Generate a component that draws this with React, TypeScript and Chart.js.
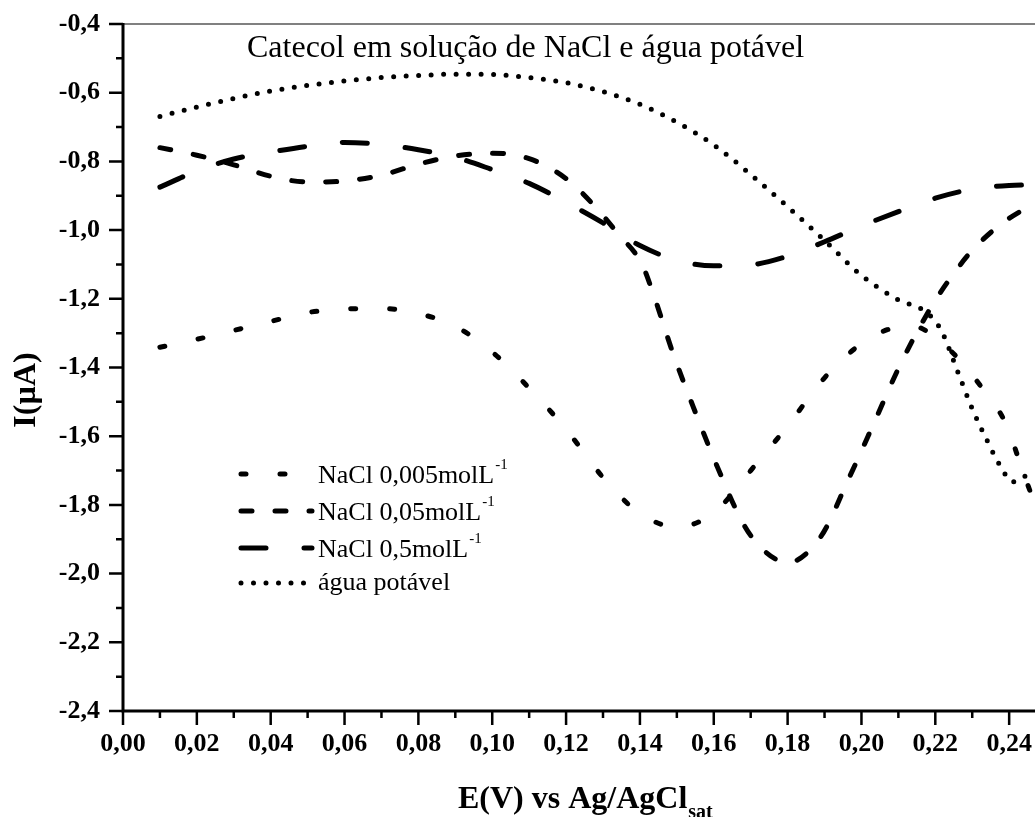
import React, { useEffect, useRef } from 'react';
import { Chart, registerables } from 'chart.js';

Chart.register(...registerables);

// ---- Data ----
const nacl005X = [0.01, 0.02, 0.03, 0.04, 0.05, 0.06, 0.07, 0.08, 0.09, 0.10, 0.11, 0.12, 0.13, 0.14, 0.15, 0.16, 0.17, 0.18, 0.19, 0.20, 0.207, 0.213, 0.224, 0.2325, 0.2393, 0.243, 0.247];
const nacl005Y = [-1.341, -1.318, -1.292, -1.266, -1.240, -1.230, -1.228, -1.243, -1.280, -1.355, -1.460, -1.580, -1.720, -1.825, -1.864, -1.823, -1.700, -1.570, -1.430, -1.330, -1.290, -1.277, -1.350, -1.457, -1.568, -1.680, -1.800];

const nacl05X = [0.01, 0.02, 0.03, 0.04, 0.05, 0.06, 0.07, 0.08, 0.09, 0.10, 0.11, 0.12, 0.128, 0.134, 0.1405, 0.1436, 0.149, 0.155, 0.161, 0.168, 0.173, 0.18, 0.189, 0.1964, 0.2035, 0.2104, 0.2186, 0.224, 0.230, 0.238, 0.247];
const nacl05Y = [-0.760, -0.782, -0.810, -0.843, -0.860, -0.857, -0.840, -0.808, -0.784, -0.776, -0.792, -0.850, -0.933, -1.010, -1.098, -1.185, -1.360, -1.530, -1.690, -1.855, -1.927, -1.968, -1.892, -1.727, -1.559, -1.394, -1.229, -1.141, -1.059, -0.981, -0.920];

const nacl5X = [0.01, 0.02, 0.03, 0.04, 0.05, 0.06, 0.07, 0.08, 0.09, 0.10, 0.11, 0.12, 0.13, 0.14, 0.15, 0.16, 0.17, 0.18, 0.19, 0.20, 0.21, 0.22, 0.23, 0.24, 0.247];
const nacl5Y = [-0.875, -0.828, -0.793, -0.773, -0.756, -0.745, -0.751, -0.766, -0.788, -0.824, -0.864, -0.919, -0.979, -1.045, -1.088, -1.104, -1.101, -1.076, -1.034, -0.988, -0.946, -0.907, -0.881, -0.870, -0.868];

const aguaX = [0.01, 0.02, 0.03, 0.04, 0.05, 0.06, 0.07, 0.08, 0.09, 0.10, 0.11, 0.12, 0.13, 0.14, 0.15, 0.16, 0.17, 0.18, 0.19, 0.20, 0.21, 0.2175, 0.2215, 0.226, 0.23, 0.234, 0.2375, 0.241, 0.2447];
const aguaY = [-0.669, -0.642, -0.617, -0.595, -0.579, -0.566, -0.556, -0.550, -0.546, -0.547, -0.556, -0.571, -0.597, -0.634, -0.686, -0.752, -0.838, -0.932, -1.030, -1.132, -1.203, -1.239, -1.290, -1.410, -1.520, -1.612, -1.685, -1.733, -1.714];

const xTicks = [0, 0.02, 0.04, 0.06, 0.08, 0.10, 0.12, 0.14, 0.16, 0.18, 0.20, 0.22, 0.24];
const yTicks = [-2.4, -2.2, -2.0, -1.8, -1.6, -1.4, -1.2, -1.0, -0.8, -0.6, -0.4];

const legendLabels = ['NaCl 0,005molL', 'NaCl 0,05molL', 'NaCl 0,5molL', 'água potável'];
const legendSup = ['-1', '-1', '-1', ''];

const chartTitle = 'Catecol em solução de NaCl e água potável';
const xTitle = 'E(V) vs Ag/AgCl';
const xTitleSub = 'sat';
const yTitle = 'I(µA)';

const SERIF = '"Liberation Serif", "Times New Roman", serif';
const DASHES = [[5, 34], [11, 23], [25, 38], [0, 12.5]];

const toPoints = (xs: number[], ys: number[]) => xs.map((x, i) => ({ x, y: ys[i] }));

const decorPlugin = {
  id: 'decor',
  afterDraw(chart: any) {
    const { ctx, chartArea: ca, scales } = chart;
    const xs = scales.x;
    const ys = scales.y;
    ctx.save();
    // top frame (gray)
    ctx.strokeStyle = '#808080';
    ctx.lineWidth = 2;
    ctx.setLineDash([]);
    ctx.beginPath();
    ctx.moveTo(ca.left, ca.top);
    ctx.lineTo(ca.right, ca.top);
    ctx.stroke();
    // axes
    ctx.strokeStyle = '#000';
    ctx.lineWidth = 3;
    ctx.beginPath();
    ctx.moveTo(ca.left, ca.top - 1);
    ctx.lineTo(ca.left, ca.bottom);
    ctx.lineTo(ca.right, ca.bottom);
    ctx.stroke();
    // ticks
    ctx.lineWidth = 2.5;
    ctx.beginPath();
    for (let i = 0; i < xTicks.length; i++) {
      const px = xs.getPixelForValue(xTicks[i]);
      ctx.moveTo(px, ca.bottom);
      ctx.lineTo(px, ca.bottom + 14);
      if (i < xTicks.length - 1) {
        const mx = xs.getPixelForValue((xTicks[i] + xTicks[i + 1]) / 2);
        ctx.moveTo(mx, ca.bottom);
        ctx.lineTo(mx, ca.bottom + 7);
      }
    }
    for (let i = 0; i < yTicks.length; i++) {
      const py = ys.getPixelForValue(yTicks[i]);
      ctx.moveTo(ca.left, py);
      ctx.lineTo(ca.left - 14, py);
      if (i < yTicks.length - 1) {
        const my = ys.getPixelForValue((yTicks[i] + yTicks[i + 1]) / 2);
        ctx.moveTo(ca.left, my);
        ctx.lineTo(ca.left - 7, my);
      }
    }
    ctx.stroke();

    // title inside plot
    ctx.fillStyle = '#000';
    ctx.font = `32px ${SERIF}`;
    ctx.textAlign = 'left';
    ctx.textBaseline = 'alphabetic';
    ctx.fillText(chartTitle, 247, 57);

    // x title with subscript
    ctx.font = `bold 32px ${SERIF}`;
    ctx.fillText(xTitle, 458, 808);
    const w = ctx.measureText(xTitle).width;
    ctx.font = `bold 20px ${SERIF}`;
    ctx.fillText(xTitleSub, 458 + w + 1, 818);

    // y title rotated
    ctx.save();
    ctx.translate(27, 390);
    ctx.rotate(-Math.PI / 2);
    ctx.font = `bold 32px ${SERIF}`;
    ctx.textAlign = 'center';
    ctx.textBaseline = 'middle';
    ctx.fillText(yTitle, 0, 0);
    ctx.restore();

    // legend
    const baselines = [483, 520, 557, 590];
    for (let i = 0; i < legendLabels.length; i++) {
      const by = baselines[i];
      const ly = i < 3 ? by - 9 : by - 7;
      ctx.strokeStyle = '#000';
      ctx.lineWidth = 5;
      ctx.lineCap = 'round';
      ctx.setLineDash(DASHES[i]);
      ctx.lineDashOffset = 0;
      ctx.beginPath();
      ctx.moveTo(241, ly);
      ctx.lineTo(312, ly);
      ctx.stroke();
      ctx.setLineDash([]);
      ctx.font = `26px ${SERIF}`;
      ctx.textAlign = 'left';
      ctx.textBaseline = 'alphabetic';
      ctx.fillText(legendLabels[i], 318, by);
      if (legendSup[i]) {
        const tw = ctx.measureText(legendLabels[i]).width;
        ctx.font = `15px ${SERIF}`;
        ctx.fillText(legendSup[i], 318 + tw + 1, by - 14);
      }
    }
    ctx.restore();
  },
};

export default function App() {
  const ref = useRef<HTMLCanvasElement | null>(null);
  useEffect(() => {
    if (!ref.current) return;
    const mk = (label: string, xs: number[], ys: number[], dash: number[]) => ({
      label,
      data: toPoints(xs, ys),
      borderColor: '#000',
      backgroundColor: '#000',
      borderWidth: 5,
      borderDash: dash,
      borderCapStyle: 'round',
      borderJoinStyle: 'round',
      pointRadius: 0,
      cubicInterpolationMode: 'monotone',
      fill: false,
    });
    const chart = new Chart(ref.current, {
      type: 'line',
      data: {
        datasets: [
          mk(legendLabels[0], nacl005X, nacl005Y, DASHES[0]),
          mk(legendLabels[1], nacl05X, nacl05Y, DASHES[1]),
          mk(legendLabels[2], nacl5X, nacl5Y, DASHES[2]),
          mk(legendLabels[3], aguaX, aguaY, DASHES[3]),
        ] as any,
      },
      options: {
        animation: false,
        responsive: true,
        maintainAspectRatio: false,
        layout: { padding: { top: 24, left: 0, right: 0, bottom: 0 } },
        plugins: { legend: { display: false }, title: { display: false }, tooltip: { enabled: false } },
        scales: {
          x: {
            type: 'linear',
            min: 0,
            max: 0.247,
            afterBuildTicks: (s: any) => { s.ticks = xTicks.map((v) => ({ value: v })); },
            afterFit: (s: any) => { s.height = 106; s.paddingLeft = 0; s.paddingRight = 0; },
            grid: { display: true, drawOnChartArea: false, drawTicks: false, color: 'rgba(0,0,0,0)' },
            border: { display: false },
            ticks: {
              color: '#000',
              padding: 18,
              maxRotation: 0,
              autoSkip: false,
              font: { family: SERIF, size: 26, weight: 'bold' },
              callback: (v: any) => Number(v).toFixed(2).replace('.', ','),
            },
          },
          y: {
            type: 'linear',
            min: -2.4,
            max: -0.4,
            afterBuildTicks: (s: any) => { s.ticks = yTicks.map((v) => ({ value: v })); },
            afterFit: (s: any) => { s.width = 123; s.paddingTop = 0; s.paddingBottom = 0; },
            grid: { display: true, drawOnChartArea: false, drawTicks: false, color: 'rgba(0,0,0,0)' },
            border: { display: false },
            ticks: {
              color: '#000',
              padding: 23,
              autoSkip: false,
              font: { family: SERIF, size: 26, weight: 'bold' },
              callback: (v: any) => Number(v).toFixed(1).replace('.', ','),
            },
          },
        },
      } as any,
      plugins: [decorPlugin],
    });
    return () => chart.destroy();
  }, []);
  return (
    <div style={{ position: 'fixed', left: 0, top: 0, width: 1035, height: 817, overflow: 'hidden', background: '#fff' }}>
      <canvas ref={ref} style={{ display: 'block' }} />
    </div>
  );
}
